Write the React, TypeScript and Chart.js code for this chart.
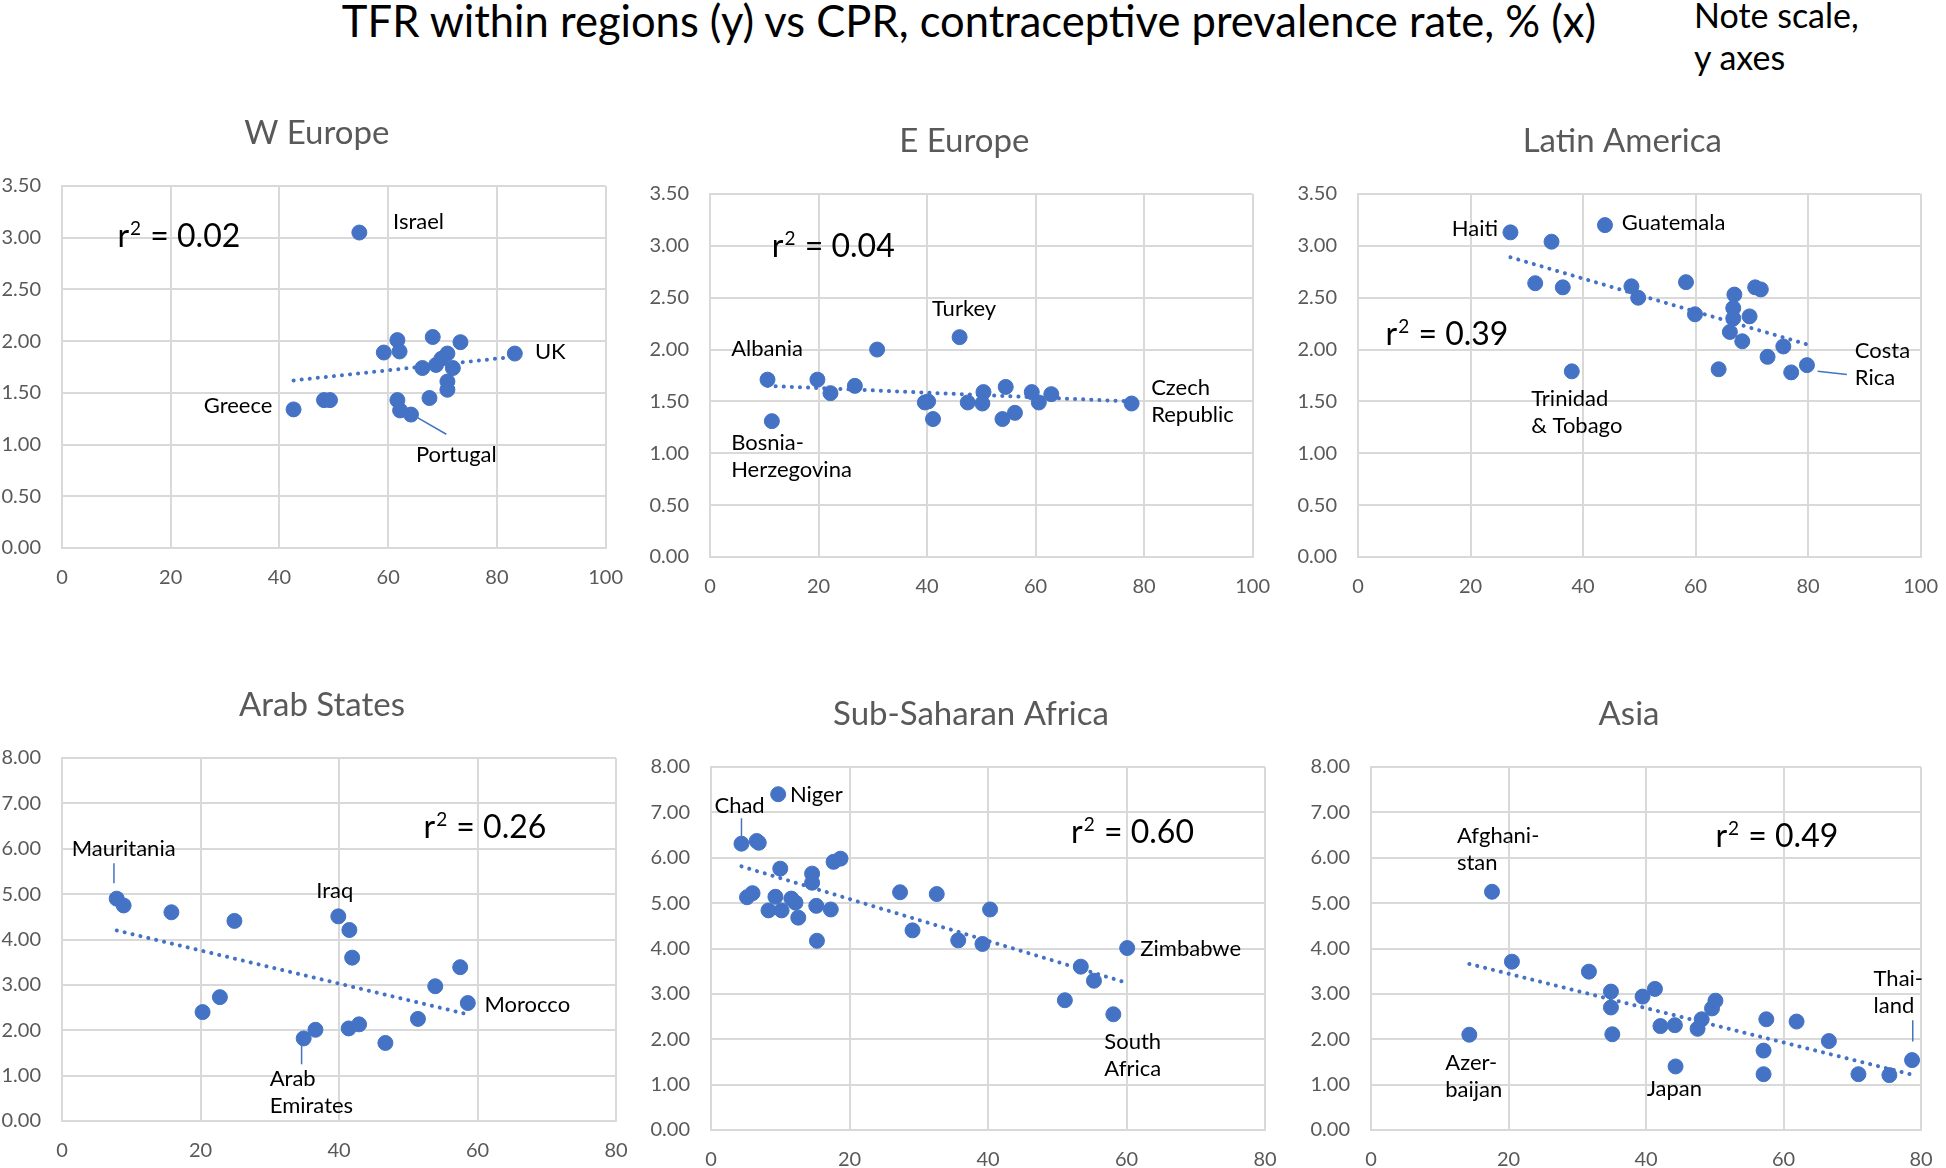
import React, { useEffect, useRef } from "react";
import { Chart, registerables } from "chart.js";
Chart.register(...registerables);

const FONT = "Lato, 'Open Sans', sans-serif";
const BLUE = "#4472C4";
const GRID = "#D9D9D9";
const TICK = "#595959";

// ---------- data (CPR % on x, TFR on y) ----------
const panelTitles = ["W Europe", "E Europe", "Latin America", "Arab States", "Sub-Saharan Africa", "Asia"];
const r2Values = [0.02, 0.04, 0.39, 0.26, 0.60, 0.49];

const wEuropeCPR = [54.7, 42.6, 48.2, 49.3, 59.2, 61.7, 62.1, 68.2, 73.3, 83.3, 66.3, 68.8, 69.8, 70.9, 71.9, 70.9, 70.9, 67.6, 61.7, 62.2, 64.2];
const wEuropeTFR = [3.05, 1.34, 1.43, 1.43, 1.89, 2.01, 1.90, 2.04, 1.99, 1.88, 1.74, 1.77, 1.83, 1.88, 1.74, 1.61, 1.53, 1.45, 1.43, 1.33, 1.29];

const eEuropeCPR = [10.6, 11.4, 19.8, 22.2, 26.7, 30.8, 46.0, 39.6, 40.2, 41.1, 47.5, 50.4, 50.2, 54.5, 53.9, 56.2, 59.3, 60.6, 62.9, 77.7];
const eEuropeTFR = [1.71, 1.31, 1.71, 1.58, 1.65, 2.00, 2.12, 1.49, 1.50, 1.33, 1.49, 1.59, 1.48, 1.64, 1.33, 1.39, 1.59, 1.49, 1.57, 1.48];

const latAmCPR = [27.1, 34.4, 43.9, 31.5, 36.4, 48.6, 49.8, 58.3, 59.9, 66.9, 66.7, 66.7, 66.1, 68.3, 69.6, 70.6, 71.6, 64.1, 72.8, 75.6, 77.0, 79.8, 38.0];
const latAmTFR = [3.13, 3.04, 3.20, 2.64, 2.60, 2.61, 2.50, 2.65, 2.34, 2.53, 2.40, 2.30, 2.17, 2.08, 2.32, 2.60, 2.58, 1.81, 1.93, 2.03, 1.78, 1.85, 1.79];

const arabCPR = [7.9, 8.9, 15.8, 24.9, 20.3, 22.8, 39.9, 41.5, 41.9, 34.9, 36.6, 41.4, 42.9, 46.7, 51.4, 53.9, 57.5, 58.6];
const arabTFR = [4.90, 4.75, 4.60, 4.41, 2.40, 2.73, 4.51, 4.21, 3.60, 1.82, 2.01, 2.04, 2.13, 1.72, 2.25, 2.97, 3.39, 2.60];

const ssaCPR = [4.4, 6.6, 6.9, 9.7, 10.0, 5.2, 6.0, 8.3, 9.3, 10.2, 11.6, 12.2, 12.6, 14.6, 14.6, 15.2, 15.3, 17.3, 17.7, 18.7, 27.3, 32.6, 29.1, 35.7, 39.2, 40.3, 51.1, 53.4, 55.3, 58.1, 60.1];
const ssaTFR = [6.31, 6.37, 6.33, 7.40, 5.76, 5.13, 5.22, 4.84, 5.14, 4.84, 5.10, 5.01, 4.68, 5.65, 5.45, 4.94, 4.17, 4.86, 5.91, 5.98, 5.24, 5.20, 4.40, 4.18, 4.10, 4.86, 2.86, 3.60, 3.29, 2.55, 4.01];

const asiaCPR = [17.6, 14.3, 20.5, 31.7, 34.9, 34.9, 35.1, 39.5, 41.3, 42.1, 44.2, 44.3, 47.5, 48.1, 49.6, 50.1, 57.1, 57.1, 57.5, 61.9, 66.6, 70.9, 75.4, 78.7];
const asiaTFR = [5.25, 2.10, 3.71, 3.49, 3.05, 2.70, 2.11, 2.94, 3.11, 2.29, 2.31, 1.40, 2.23, 2.44, 2.68, 2.85, 1.75, 1.23, 2.44, 2.39, 1.96, 1.23, 1.21, 1.54];

// trendline end points (x, y)
const wEuropeTrend = [[42.6, 1.62], [83.3, 1.85]];
const eEuropeTrend = [[10.6, 1.65], [77.7, 1.50]];
const latAmTrend = [[27.1, 2.89], [79.8, 2.05]];
const arabTrend = [[7.9, 4.20], [58.6, 2.35]];
const ssaTrend = [[4.4, 5.81], [60.1, 3.24]];
const asiaTrend = [[14.3, 3.66], [78.7, 1.22]];

// axis scales
const xMaxes = [100, 100, 100, 80, 80, 80];
const yMaxes = [3.5, 3.5, 3.5, 8, 8, 8];
const ySteps = [0.5, 0.5, 0.5, 1, 1, 1];

// country labels (anchor in data units)
type Lbl = { lines: string[]; x: number; y: number; align: "left" | "right" };
const wEuropeLabels: Lbl[] = [
  { lines: ["Israel"], x: 60.9, y: 3.15, align: "left" },
  { lines: ["UK"], x: 87.0, y: 1.90, align: "left" },
  { lines: ["Greece"], x: 38.7, y: 1.37, align: "right" },
  { lines: ["Portugal"], x: 65.1, y: 0.90, align: "left" },
];
const eEuropeLabels: Lbl[] = [
  { lines: ["Albania"], x: 3.9, y: 2.01, align: "left" },
  { lines: ["Bosnia-", "Herzegovina"], x: 3.9, y: 1.10, align: "left" },
  { lines: ["Turkey"], x: 40.9, y: 2.39, align: "left" },
  { lines: ["Czech", "Republic"], x: 81.3, y: 1.63, align: "left" },
];
const latAmLabels: Lbl[] = [
  { lines: ["Haiti"], x: 24.9, y: 3.16, align: "right" },
  { lines: ["Guatemala"], x: 46.9, y: 3.22, align: "left" },
  { lines: ["Trinidad", "& Tobago"], x: 30.8, y: 1.52, align: "left" },
  { lines: ["Costa", "Rica"], x: 88.3, y: 1.99, align: "left" },
];
const arabLabels: Lbl[] = [
  { lines: ["Mauritania"], x: 1.4, y: 5.99, align: "left" },
  { lines: ["Iraq"], x: 36.7, y: 5.07, align: "left" },
  { lines: ["Arab", "Emirates"], x: 30.0, y: 0.92, align: "left" },
  { lines: ["Morocco"], x: 61.0, y: 2.56, align: "left" },
];
const ssaLabels: Lbl[] = [
  { lines: ["Chad"], x: 0.5, y: 7.14, align: "left" },
  { lines: ["Niger"], x: 11.4, y: 7.38, align: "left" },
  { lines: ["Zimbabwe"], x: 62.0, y: 4.0, align: "left" },
  { lines: ["South", "Africa"], x: 56.8, y: 1.95, align: "left" },
];
const asiaLabels: Lbl[] = [
  { lines: ["Afghani-", "stan"], x: 12.5, y: 6.49, align: "left" },
  { lines: ["Azer-", "baijan"], x: 10.8, y: 1.47, align: "left" },
  { lines: ["Japan"], x: 40.1, y: 0.90, align: "left" },
  { lines: ["Thai-", "land"], x: 73.1, y: 3.33, align: "left" },
];

// leader lines [x1, y1, x2, y2] in data units
const wEuropeLeaders = [[65.4, 1.26, 70.7, 1.10]];
const eEuropeLeaders: number[][] = [];
const latAmLeaders = [[81.7, 1.79, 86.9, 1.76]];
const arabLeaders = [[7.5, 5.68, 7.5, 5.24], [34.6, 1.67, 34.6, 1.25]];
const ssaLeaders = [[4.4, 6.87, 4.4, 6.47]];
const asiaLeaders = [[78.8, 2.42, 78.8, 1.95]];

// r² text anchor (left x, centre y) in data units
const r2Anchors = [[10.2, 3.02], [11.4, 3.0], [4.9, 2.15], [52.2, 6.49], [52.0, 6.57], [50.1, 6.47]];

// ---------- layout (page pixels of each plot area) ----------
const plotBoxes = [
  { left: 62, top: 186, right: 611, bottom: 548 },
  { left: 710, top: 194, right: 1258, bottom: 557 },
  { left: 1358, top: 194, right: 1926, bottom: 557 },
  { left: 62, top: 758, right: 616, bottom: 1121 },
  { left: 711, top: 767, right: 1265, bottom: 1130 },
  { left: 1371, top: 767, right: 1921, bottom: 1130 },
];

const panels = [
  { cpr: wEuropeCPR, tfr: wEuropeTFR, trend: wEuropeTrend, labels: wEuropeLabels, leaders: wEuropeLeaders },
  { cpr: eEuropeCPR, tfr: eEuropeTFR, trend: eEuropeTrend, labels: eEuropeLabels, leaders: eEuropeLeaders },
  { cpr: latAmCPR, tfr: latAmTFR, trend: latAmTrend, labels: latAmLabels, leaders: latAmLeaders },
  { cpr: arabCPR, tfr: arabTFR, trend: arabTrend, labels: arabLabels, leaders: arabLeaders },
  { cpr: ssaCPR, tfr: ssaTFR, trend: ssaTrend, labels: ssaLabels, leaders: ssaLeaders },
  { cpr: asiaCPR, tfr: asiaTFR, trend: asiaTrend, labels: asiaLabels, leaders: asiaLeaders },
];

const Y_AXIS_W = 70;
const X_AXIS_H = 60;
const PAD_TOP = 100;
const PAD_RIGHT = 30;

function Panel({ idx }: { idx: number }) {
  const ref = useRef<HTMLCanvasElement>(null);
  const box = plotBoxes[idx];
  const w = Y_AXIS_W + (box.right - box.left) + PAD_RIGHT;
  const h = PAD_TOP + (box.bottom - box.top) + X_AXIS_H;

  useEffect(() => {
    const p = panels[idx];
    const textPlugin = {
      id: "panelText",
      afterDatasetsDraw(chart: any) {
        const { ctx, chartArea } = chart;
        const xs = chart.scales.x;
        const ys = chart.scales.y;
        ctx.save();
        // panel title
        ctx.font = `33px ${FONT}`;
        ctx.fillStyle = TICK;
        ctx.textAlign = "center";
        ctx.textBaseline = "middle";
        ctx.fillText(panelTitles[idx], (chartArea.left + chartArea.right) / 2 - 17, chartArea.top - 53);
        // leader lines
        ctx.strokeStyle = BLUE;
        ctx.lineWidth = 1.5;
        for (const l of p.leaders) {
          ctx.beginPath();
          ctx.moveTo(xs.getPixelForValue(l[0]), ys.getPixelForValue(l[1]));
          ctx.lineTo(xs.getPixelForValue(l[2]), ys.getPixelForValue(l[3]));
          ctx.stroke();
        }
        // country labels
        ctx.font = `22px ${FONT}`;
        ctx.fillStyle = "#000";
        for (const lb of p.labels) {
          ctx.textAlign = lb.align;
          const px = xs.getPixelForValue(lb.x);
          const py = ys.getPixelForValue(lb.y);
          lb.lines.forEach((t, i) => ctx.fillText(t, px, py + i * 27));
        }
        // r² text
        const [rx, ry] = r2Anchors[idx];
        let px = xs.getPixelForValue(rx);
        const base = ys.getPixelForValue(ry) + 11;
        ctx.textAlign = "left";
        ctx.textBaseline = "alphabetic";
        ctx.font = `32px ${FONT}`;
        ctx.fillText("r", px, base);
        px += ctx.measureText("r").width + 1;
        ctx.font = `19px ${FONT}`;
        ctx.fillText("2", px, base - 12);
        px += ctx.measureText("2").width + 1;
        ctx.font = `32px ${FONT}`;
        ctx.fillText(" = " + r2Values[idx].toFixed(2), px, base);
        ctx.restore();
      },
    };

    const tickFont = { family: FONT, size: 20 };
    const chart = new Chart(ref.current!, {
      type: "scatter",
      data: {
        datasets: [
          {
            data: p.trend.map(([x, y]) => ({ x, y })),
            showLine: true,
            borderColor: BLUE,
            borderWidth: 4,
            borderDash: [0.1, 8],
            borderCapStyle: "round",
            pointRadius: 0,
            fill: false,
          } as any,
          {
            data: p.cpr.map((x, i) => ({ x, y: p.tfr[i] })),
            pointRadius: 7.5,
            pointBackgroundColor: BLUE,
            pointBorderColor: BLUE,
            pointBorderWidth: 1,
            showLine: false,
          },
        ],
      },
      options: {
        responsive: false,
        animation: false,
        devicePixelRatio: 1,
        layout: { padding: { left: 0, top: PAD_TOP, right: PAD_RIGHT, bottom: 0 } },
        plugins: { legend: { display: false }, tooltip: { enabled: false }, title: { display: false } },
        scales: {
          x: {
            type: "linear",
            min: 0,
            max: xMaxes[idx],
            ticks: { stepSize: 20, autoSkip: false, padding: 18, color: TICK, font: tickFont, maxRotation: 0 },
            grid: { color: GRID, lineWidth: 2, drawTicks: false },
            border: { color: GRID, width: 2 },
            afterFit: (s: any) => { s.height = X_AXIS_H; },
          },
          y: {
            type: "linear",
            min: 0,
            max: yMaxes[idx],
            ticks: {
              stepSize: ySteps[idx],
              autoSkip: false,
              padding: 21,
              color: TICK,
              font: tickFont,
              callback: (v: any) => Number(v).toFixed(2),
            },
            grid: { color: GRID, lineWidth: 2, drawTicks: false },
            border: { color: GRID, width: 2 },
            afterFit: (s: any) => { s.width = Y_AXIS_W; },
          },
        },
      } as any,
      plugins: [textPlugin],
    });
    return () => chart.destroy();
  }, [idx]);

  return (
    <canvas
      ref={ref}
      width={w}
      height={h}
      style={{ position: "absolute", left: box.left - Y_AXIS_W, top: box.top - PAD_TOP, width: w, height: h }}
    />
  );
}

export default function App() {
  return (
    <div
      style={{
        position: "absolute",
        left: 0,
        top: 0,
        width: 1946,
        height: 1168,
        overflow: "hidden",
        background: "#fff",
        fontFamily: FONT,
      }}
    >
      <div
        style={{
          position: "absolute",
          left: 0,
          top: -6,
          width: 1938,
          textAlign: "center",
          fontSize: 43.5,
          lineHeight: "52px",
          color: "#000",
          whiteSpace: "nowrap",
        }}
      >
        TFR within regions (y) vs CPR, contraceptive prevalence rate, % (x)
      </div>
      <div
        style={{
          position: "absolute",
          left: 1694,
          top: -6,
          fontSize: 34,
          lineHeight: "42px",
          color: "#000",
          whiteSpace: "nowrap",
        }}
      >
        Note scale,
        <br />
        y axes
      </div>
      {plotBoxes.map((_, i) => (
        <Panel key={i} idx={i} />
      ))}
    </div>
  );
}
